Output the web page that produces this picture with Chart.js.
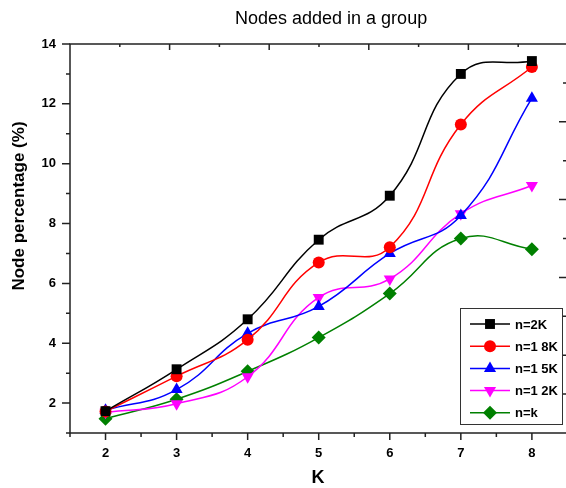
<!DOCTYPE html>
<html>
<head>
<meta charset="utf-8">
<script src="https://cdn.jsdelivr.net/npm/chart.js@4"></script>
<style>
  html, body { margin: 0; padding: 0; background: #fff; overflow: hidden; }
  canvas { display: block; }
</style>
</head>
<body>
<canvas id="nodesChart" width="566" height="488"></canvas>
<script>
const kValues = [2, 3, 4, 5, 6, 7, 8];
const seriesNames = ['n=2K', 'n=1 8K', 'n=1 5K', 'n=1 2K', 'n=k'];
const n2K  = [1.73, 3.13, 4.80, 7.46, 8.93, 13.00, 13.43];
const n18K = [1.72, 2.90, 4.12, 6.70, 7.21, 11.31, 13.23];
const n15K = [1.76, 2.45, 4.33, 5.23, 7.00, 8.27, 12.19];
const n12K = [1.69, 1.98, 2.88, 5.53, 6.15, 8.33, 9.27];
const nk   = [1.48, 2.13, 3.06, 4.19, 5.66, 7.50, 7.14];
const yTicks = [2, 4, 6, 8, 10, 12, 14];

const colors = ['#000000', '#ff0000', '#0000ff', '#ff00ff', '#008000'];
const styles = ['rect', 'circle', 'triangle', 'triangle', 'rectRot'];
const rotations = [0, 0, 0, 180, 0];
const radii = [7, 6, 7, 7, 7];

function toPoints(vals) {
    return kValues.map((k, i) => ({ x: k, y: vals[i] }));
}

const allSeries = [n2K, n18K, n15K, n12K, nk];
const datasets = allSeries.map((vals, i) => ({
    label: seriesNames[i],
    data: toPoints(vals),
    borderColor: colors[i],
    backgroundColor: colors[i],
    borderWidth: 1.5,
    pointStyle: styles[i],
    pointRotation: rotations[i],
    pointRadius: radii[i],
    pointBorderWidth: 0,
    tension: 0.45,
    fill: false
}));

const axisColor = '#222';

// frame lines and tick marks (outer ticks left/bottom, inner ticks top/right)
// the right border of the original frame falls just outside the picture
const framePlugin = {
    id: 'frame',
    beforeDatasetsDraw(chart) {
        const c = chart.ctx;
        const a = chart.chartArea;
        const sx = chart.scales.x, sy = chart.scales.y;
        const sx2 = chart.scales.x2, sy2 = chart.scales.y2;
        c.save();
        c.strokeStyle = axisColor;
        c.lineWidth = 1.5;
        c.beginPath();
        c.moveTo(a.right, a.top);
        c.lineTo(a.left, a.top);
        c.lineTo(a.left, a.bottom);
        c.lineTo(a.right, a.bottom);
        c.stroke();

        c.beginPath();
        for (let v = 1; v <= 14; v++) {
            const y = sy.getPixelForValue(v);
            const len = v % 2 === 0 ? 8 : 4;
            c.moveTo(a.left - len, y);
            c.lineTo(a.left, y);
        }
        for (let v = 1.5; v <= 8; v += 0.5) {
            const x = sx.getPixelForValue(v);
            const len = Number.isInteger(v) ? 7 : 4;
            c.moveTo(x, a.bottom);
            c.lineTo(x, a.bottom + len);
        }
        for (let v = 1; v < 10; v++) {
            const x = sx2.getPixelForValue(v);
            const len = v % 2 === 0 ? 6 : 3;
            c.moveTo(x, a.top);
            c.lineTo(x, a.top + len);
            const y = sy2.getPixelForValue(v);
            const len2 = v % 2 === 0 ? 7 : 3;
            c.moveTo(a.right, y);
            c.lineTo(a.right - len2, y);
        }
        c.stroke();
        c.restore();
    },
    afterDraw(chart) {
        const c = chart.ctx;
        c.save();
        c.fillStyle = '#000';

        // title
        c.font = '18px "Liberation Sans", Arial, sans-serif';
        c.textAlign = 'left';
        c.textBaseline = 'middle';
        c.fillText('Nodes added in a group', 235, 19);

        // x axis title
        c.font = 'bold 18px "Liberation Sans", Arial, sans-serif';
        c.textAlign = 'center';
        c.fillText('K', 318, 478);

        // y axis title
        c.save();
        c.translate(19, 206);
        c.rotate(-Math.PI / 2);
        c.font = 'bold 17px "Liberation Sans", Arial, sans-serif';
        c.fillText('Node percentage (%)', 0, 0);
        c.restore();

        // legend box
        c.fillStyle = '#fff';
        c.fillRect(460, 308, 102, 116);
        c.strokeStyle = '#333';
        c.lineWidth = 1;
        c.strokeRect(460.5, 308.5, 102, 116);
        chart.data.datasets.forEach((ds, i) => {
            const y = 324 + i * 22.2;
            c.strokeStyle = ds.borderColor;
            c.lineWidth = 1.5;
            c.beginPath();
            c.moveTo(470, y);
            c.lineTo(510, y);
            c.stroke();
            c.fillStyle = ds.backgroundColor;
            Chart.helpers.drawPoint(c, {
                pointStyle: ds.pointStyle,
                radius: ds.pointRadius,
                rotation: ds.pointRotation,
                borderWidth: 0
            }, 490, y);
            c.fillStyle = '#000';
            c.font = 'bold 13px "Liberation Sans", Arial, sans-serif';
            c.textAlign = 'left';
            c.textBaseline = 'middle';
            c.fillText(ds.label, 515, y + 1);
        });
        c.restore();
    }
};

const ctx = document.getElementById('nodesChart').getContext('2d');

const chart = new Chart(ctx, {
    type: 'line',
    data: { datasets: datasets },
    options: {
        responsive: false,
        animation: false,
        layout: { autoPadding: false, padding: { top: 44, right: 0, left: 0, bottom: 0 } },
        plugins: {
            legend: { display: false },
            title: { display: false },
            tooltip: { enabled: false }
        },
        scales: {
            x: {
                type: 'linear',
                position: 'bottom',
                min: 1.5,
                max: 8.48,
                border: { display: false },
                grid: { display: false, drawTicks: false },
                ticks: {
                    stepSize: 0.5,
                    includeBounds: false,
                    autoSkip: false,
                    maxRotation: 0,
                    padding: 13,
                    color: '#000',
                    font: { family: '"Liberation Sans", Arial, sans-serif', size: 13, weight: 'bold' },
                    callback: v => Number.isInteger(v) && kValues.includes(v) ? String(v) : ''
                },
                afterFit: s => { s.height = 55; s.paddingLeft = 0; s.paddingRight = 0; }
            },
            y: {
                type: 'linear',
                position: 'left',
                min: 1,
                max: 14,
                border: { display: false },
                grid: { display: false, drawTicks: false },
                ticks: {
                    stepSize: 1,
                    autoSkip: false,
                    padding: 14,
                    color: '#000',
                    font: { family: '"Liberation Sans", Arial, sans-serif', size: 13, weight: 'bold' },
                    callback: v => yTicks.includes(v) ? String(v) : ''
                },
                afterFit: s => { s.width = 70; s.paddingTop = 0; s.paddingBottom = 0; }
            },
            x2: { type: 'linear', position: 'top', min: 0, max: 9.96, display: false, ticks: { display: false } },
            y2: { type: 'linear', position: 'right', min: 0, max: 10, display: false, ticks: { display: false } }
        }
    },
    plugins: [framePlugin]
});
</script>
</body>
</html>
